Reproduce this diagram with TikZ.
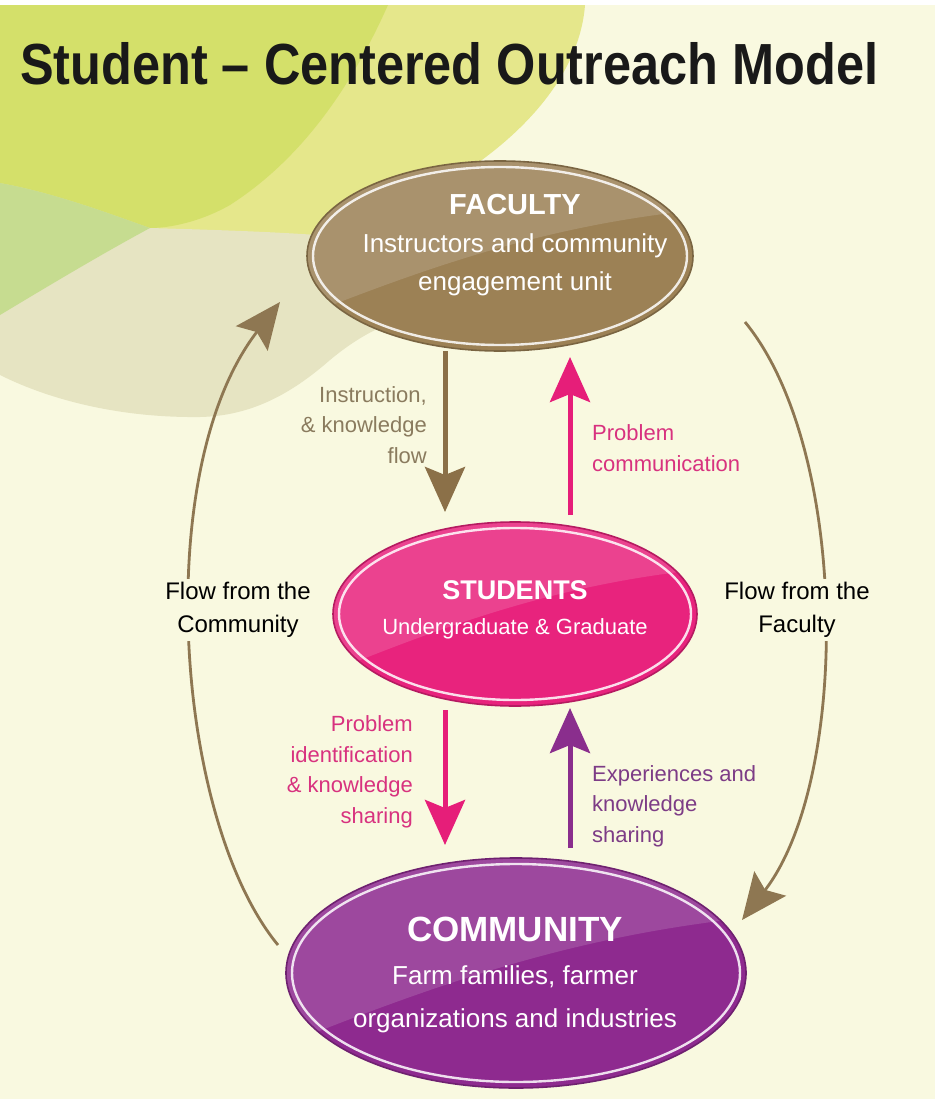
\documentclass[tikz,border=0pt]{standalone}
\usepackage{fontspec}
\setmainfont{Liberation Sans}
\newfontfamily\titlefont[FakeStretch=0.87]{Liberation Sans}
\usetikzlibrary{arrows.meta, shapes.geometric}

\definecolor{cream}{HTML}{F9F9E0}
\definecolor{leafgreen}{HTML}{C6DC90}
\definecolor{limeyellow}{HTML}{D4E06A}
\definecolor{paleyellow}{HTML}{E5E78B}
\definecolor{sand}{HTML}{E6E4C2}
\definecolor{facbrown}{HTML}{9C8155}
\definecolor{stupink}{HTML}{E8237D}
\definecolor{compurple}{HTML}{8E2A8F}
\definecolor{arrbrown}{HTML}{8B7048}
\definecolor{curvebrown}{HTML}{8E7752}
\definecolor{arrpink}{HTML}{E61E79}
\definecolor{arrpurple}{HTML}{8A2E8D}
\definecolor{txtbrown}{HTML}{8A7B5E}
\definecolor{txtpink}{HTML}{D8327F}
\definecolor{txtpurple}{HTML}{7D3C86}

\tikzset{
  blob/.style n args={3}{ellipse, draw=#1!78!black, line width=1.6pt, fill=#1,
    minimum width=#2pt, minimum height=#3pt, inner sep=0pt, outer sep=0pt,
    path picture={
      \begin{scope}[shift={(path picture bounding box.center)}, x={(#2/2,0)}, y={(0,#3/2)}]
        \fill[white, opacity=.14] (-1.1,.7) .. controls (-.3,.05) and (.3,-.35) .. (1.1,-.5) -- (1.1,-1.1) -- (-1.1,-1.1) -- cycle;
        \draw[white, opacity=.85, line width=2.4pt] (0,0) ellipse [x radius={1-12/#2}, y radius={1-12/#3}];
      \end{scope}}},
  intext/.style={align=center, text=white, inner sep=0pt},
  sidetext/.style={inner sep=0pt, font=\fontsize{22}{30.5}\selectfont},
  flowtext/.style={align=center, fill=cream, inner sep=3pt, font=\fontsize{24}{33}\selectfont},
  bigarrow/.style={line width=5pt, -{Stealth[length=45pt, width=40pt, inset=8pt]}},
  flowarrow/.style={curvebrown, line width=2.8pt, -{Stealth[length=46pt, width=40pt, inset=8pt]}},
}

\begin{document}
\begin{tikzpicture}[x=1pt, y=-1pt]
  \useasboundingbox (0,0) rectangle (935,1099);
  \fill[cream] (0,0) rectangle (935,1099);
  \fill[paleyellow] (0,5) -- (585,5) .. controls (580,70) and (530,130) .. (460,175) -- (440,250) -- (0,250) -- cycle;
  \fill[sand] (0,200) -- (150,228) .. controls (220,230) and (280,232) .. (330,236) -- (430,250) -- (420,315)
    .. controls (390,320) and (360,335) .. (330,360) .. controls (290,395) and (250,416) .. (200,417)
    .. controls (120,418) and (50,400) .. (0,375) -- cycle;
  \fill[limeyellow] (0,5) -- (388,5) .. controls (350,90) and (300,160) .. (230,205)
    .. controls (200,222) and (170,228) .. (150,228) .. controls (100,210) and (50,192) .. (0,183) -- cycle;
  \fill[leafgreen] (0,183) .. controls (50,192) and (100,210) .. (150,228) .. controls (100,255) and (50,285) .. (0,315) -- cycle;
  \fill[white] (0,0) rectangle (935,5);

  \node (title) [anchor=base west, inner sep=0pt, text=black!90, font=\titlefont\bfseries\fontsize{58}{60}\selectfont] at (20,85) {Student – Centered Outreach Model};

  \node (fac) [blob={facbrown}{386}{190}] at (500,256) {};
  \node (stu) [blob={stupink}{364}{184}] at (515,614) {};
  \node (com) [blob={compurple}{460}{230}] at (516,973) {};

  \node (factext) [intext, font=\fontsize{26}{38}\selectfont] at (515,245) {{\fontsize{29}{29}\selectfont\bfseries FACULTY}\\Instructors and community\\engagement unit};
  \node (stutext) [intext, font=\fontsize{22}{35}\selectfont] at (515,610) {{\fontsize{27}{27}\selectfont\bfseries STUDENTS}\\Undergraduate \& Graduate};
  \node (comtext) [intext, font=\fontsize{26}{43}\selectfont] at (515,975) {{\fontsize{35}{35}\selectfont\bfseries COMMUNITY}\\Farm families, farmer\\organizations and industries};

  \coordinate (leftx) at (445,0);
  \coordinate (rightx) at (570,0);

  \draw[bigarrow, arrbrown, shorten >=10pt] (fac.south -| leftx) -- (stu.north -| leftx);
  \draw[bigarrow, arrpink, shorten <=7pt, shorten >=6pt] (stu.north -| rightx) -- (fac.south -| rightx);
  \draw[bigarrow, arrpink, shorten <=4pt, shorten >=13pt] (stu.south -| leftx) -- (com.north -| leftx);
  \draw[bigarrow, arrpurple, shorten <=10pt, shorten >=2pt] (com.north -| rightx) -- (stu.south -| rightx);

  \draw[flowarrow] ([shift={(-8,-28)}]com.west) .. controls (175,820) and (150,470) .. ([shift={(-27,46)}]fac.west);
  \draw[flowarrow] ([shift={(52,66)}]fac.east) .. controls (850,450) and (850,780) .. ([shift={(-4,-53)}]com.east);

  \node (instr) [sidetext, anchor=east, align=right, text=txtbrown] at (427,425) {Instruction,\\\& knowledge\\flow};
  \node (probcomm) [sidetext, anchor=west, align=left, text=txtpink] at (592,448) {Problem\\communication};
  \node (probid) [sidetext, anchor=east, align=right, text=txtpink] at (413,772) {Problem\\identification\\\& knowledge\\sharing};
  \node (exper) [sidetext, anchor=west, align=left, text=txtpurple] at (592,806) {Experiences and\\knowledge\\sharing};
  \node (flowcom) [flowtext] at (238,610) {Flow from the\\Community};
  \node (flowfac) [flowtext] at (797,610) {Flow from the\\Faculty};
\end{tikzpicture}
\end{document}
